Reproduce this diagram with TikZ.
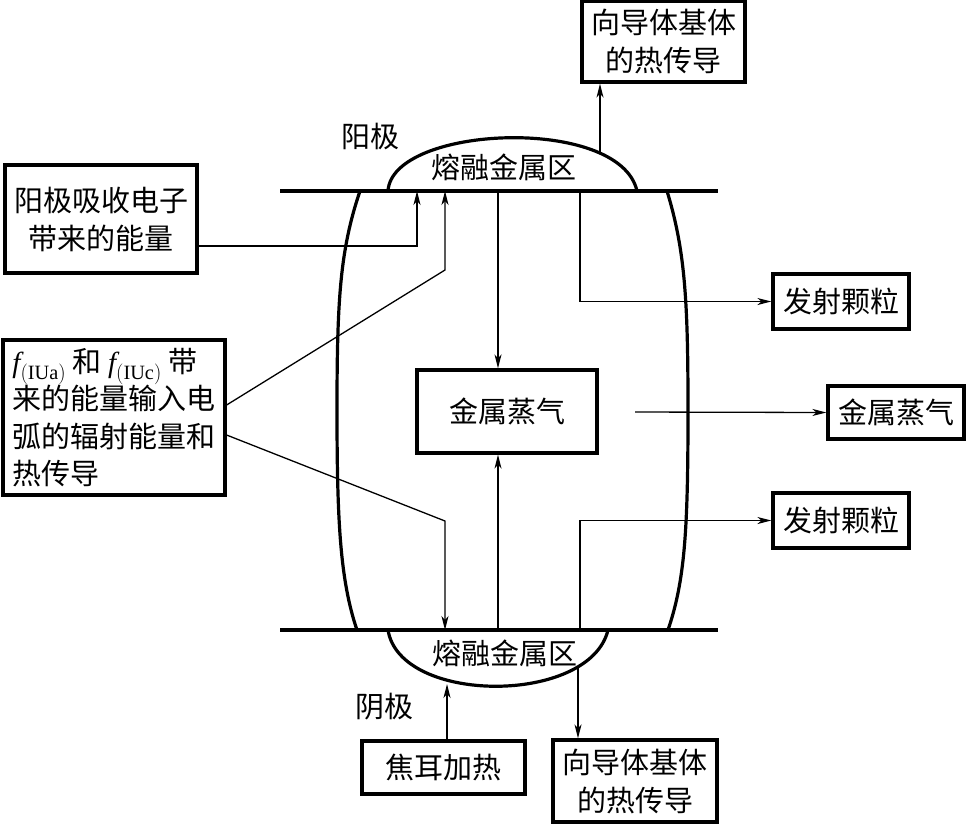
\documentclass[tikz,border=0pt]{standalone}
\usepackage{fontspec}
\setmainfont{Liberation Serif}
\newfontfamily\cjk{Noto Sans CJK SC}
\usetikzlibrary{arrows.meta,positioning}

\tikzset{
  box/.style={draw, line width=3.2pt, align=center, inner sep=0pt},
  conn/.style={line width=1.3pt, -{Stealth[length=14pt,width=7pt,inset=4pt]}},
  plate/.style={line width=3.2pt},
}

\begin{document}
\begin{tikzpicture}[x=1pt, y=-1pt, font=\cjk\fontsize{29}{38}\selectfont]
    \useasboundingbox (0,0) rectangle (966,823);

    % Electrodes
    \coordinate (topL) at (280,191);
    \coordinate (topR) at (718,191);
    \coordinate (botL) at (280,630);
    \coordinate (botR) at (718,630);
    \draw[plate] (topL) -- (topR);
    \draw[plate] (botL) -- (botR);

    % Molten zones
    \draw[plate] (388,191) .. controls (392,125) and (620,115) .. (637,191);
    \draw[plate] (388,630) .. controls (400,705) and (590,705) .. (608,630);

    % Arc column
    \draw[plate] (360,191) .. controls (340,250) and (337,300) .. (337,410)
                 .. controls (337,520) and (340,580) .. (357,630);
    \draw[plate] (667,191) .. controls (685,250) and (688,300) .. (688,410)
                 .. controls (688,530) and (685,580) .. (668,630);

    % Labels
    \node (anodeLbl) at (370,136) {阳极};
    \node (cathodeLbl) at (384,707) {阴极};
    \node (meltTop) at (504,167) {熔融金属区};
    \node (meltBot) at (505,653) {熔融金属区};

    % Boxes
    \node[box, minimum width=163, minimum height=81] (topCond) at (663.5,41.5) {向导体基体\\的热传导};
    \node[box, minimum width=192, minimum height=108] (anodeIn) at (101,219) {阳极吸收电子\\带来的能量};
    \node[box, minimum width=222, minimum height=155, align=left, font=\cjk\fontsize{29}{37.5}\selectfont] (fIn) at (114,417.5)
      {$\mathit{f}_{\mathrm{(IUa)}}$ 和 $\mathit{f}_{\mathrm{(IUc)}}$ 带\\来的能量输入电\\弧的辐射能量和\\热传导};
    \node[box, minimum width=180, minimum height=83] (vapor) at (507,411.5) {金属蒸气};
    \node[box, minimum width=136, minimum height=55] (emitA) at (841,301.5) {发射颗粒};
    \node[box, minimum width=136, minimum height=53] (vaporOut) at (896,412.5) {金属蒸气};
    \node[box, minimum width=136, minimum height=55] (emitB) at (841,520.5) {发射颗粒};
    \node[box, minimum width=163, minimum height=53] (joule) at (443.5,767.5) {焦耳加热};
    \node[box, minimum width=164, minimum height=82] (botCond) at (635,781) {向导体基体\\的热传导};

    % Points on plates and zones
    \coordinate (pA) at (417,191);
    \coordinate (pB) at (445,191);
    \coordinate (kB) at (445,270);
    \coordinate (pC) at (445,630);
    \coordinate (kC) at (445,521);
    \coordinate (pV1) at (498,191);
    \coordinate (pV2) at (498,630);
    \coordinate (pE1) at (580,191);
    \coordinate (pE2) at (580,630);
    \coordinate (pO) at (635,412);
    \coordinate (pTop) at (600,152);
    \coordinate (pBot) at (578,668);
    \coordinate (pJ) at (447,684);

    % Energy inputs
    \draw[conn] ([yshift=-27pt]anodeIn.east) -| (pA);
    \draw[conn] ([yshift=12.5pt]fIn.east) -- (kB) -- (pB);
    \draw[conn] ([yshift=-17.5pt]fIn.east) -- (kC) -- (pC);
    \draw[conn] (pJ |- joule.north) -- (pJ);

    % Vapour
    \draw[conn] (pV1) -- (pV1 |- vapor.north);
    \draw[conn] (pV2) -- (pV2 |- vapor.south);
    \draw[conn] (pO) -- (vaporOut.west);

    % Losses
    \draw[conn] (pE1) |- (emitA.west);
    \draw[conn] (pE2) |- (emitB.west);
    \draw[conn] (pTop) -- (pTop |- topCond.south);
    \draw[conn] (pBot) -- (pBot |- botCond.north);
\end{tikzpicture}
\end{document}
